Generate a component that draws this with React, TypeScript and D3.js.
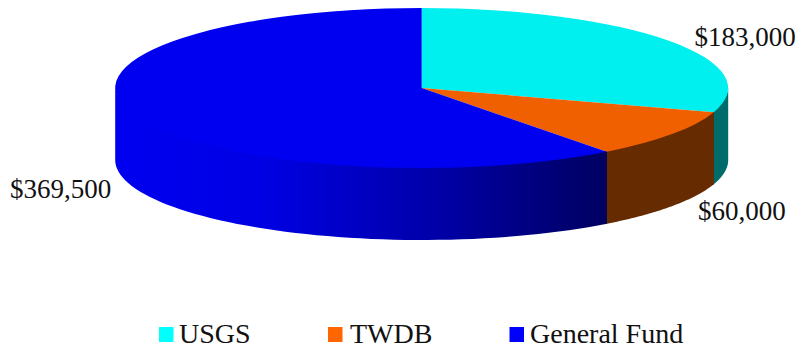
import React from "react";
import * as d3 from "d3";

const categories = ["USGS", "TWDB", "General Fund"];
const amounts = [183000, 60000, 369500];
const amountLabels = ["$183,000", "$60,000", "$369,500"];
const topColors = ["#00f0f0", "#f06000", "#0000f0"];
const legendColors = ["#00ffff", "#ff6600", "#0000ff"];
const wallColors = ["#006b6b", "#662b00", "url(#fundWall)"];

const WIDTH = 796;
const HEIGHT = 347;
const CX = 421.7;
const CY = 88;
const RX = 306.5;
const RY = 80;
const DEPTH = 72;
const WALL_OVERLAP = 1.5;
const WALL_ANGLE_OVERLAP = 0.01;

const labelSpots = [
  { x: 694.5, y: 46 },
  { x: 698, y: 220 },
  { x: 10, y: 198 },
];
const legendSpots = [
  { box: 159, text: 179 },
  { box: 328, text: 350 },
  { box: 509.5, text: 530 },
];

const slices = d3.pie<number>().sort(null)(amounts);
const unitArc = d3.arc<d3.PieArcDatum<number>>().innerRadius(0).outerRadius(1);

// Scales that project the unit circle onto the tilted disc.
const xScale = d3.scaleLinear().domain([-1, 1]).range([CX - RX, CX + RX]);
const yScale = d3.scaleLinear().domain([-1, 1]).range([CY - RY, CY + RY]);

// The part of a slice's rim that faces the viewer, as a closed wall outline.
// Each wall tucks slightly under the disc and under the next wall, so no pale
// seams show along the rim or between neighbouring slices.
function wallPath(start: number, end: number): string | null {
  const a0 = Math.max(start, Math.PI / 2);
  const a1 = Math.min(end + WALL_ANGLE_OVERLAP, (3 * Math.PI) / 2);
  if (a1 <= a0) return null;
  const angles = d3.range(0, 61).map((i) => a0 + ((a1 - a0) * i) / 60);
  const rim = angles.map((a): [number, number] => [xScale(Math.sin(a)), yScale(-Math.cos(a))]);
  const upper = rim.map(([x, y]): [number, number] => [x, y - WALL_OVERLAP]);
  const lower = rim.slice().reverse().map(([x, y]): [number, number] => [x, y + DEPTH]);
  return d3.line()([...upper, ...lower]) + "Z";
}

export default function App() {
  return (
    <svg
      width={WIDTH}
      height={HEIGHT}
      viewBox={`0 0 ${WIDTH} ${HEIGHT}`}
      style={{ position: "absolute", left: 0, top: 0, background: "#fff" }}
      fontFamily="'Liberation Serif', serif"
      fill="#111"
    >
      <defs>
        <linearGradient id="fundWall" gradientUnits="userSpaceOnUse" x1={115} x2={608} y1={0} y2={0}>
          <stop offset="0" stopColor="#0000f0" />
          <stop offset="0.3" stopColor="#0000e4" />
          <stop offset="0.65" stopColor="#0000a8" />
          <stop offset="1" stopColor="#000060" />
        </linearGradient>
      </defs>

      {slices.map((s, i) => {
        const d = wallPath(s.startAngle, s.endAngle);
        return d ? <path key={categories[i]} d={d} fill={wallColors[i]} /> : null;
      })}

      <g transform={`translate(${CX},${CY}) scale(${RX},${RY})`}>
        {slices.map((s, i) => (
          <path key={categories[i]} d={unitArc(s) ?? ""} fill={topColors[i]} />
        ))}
      </g>

      {amountLabels.map((label, i) => (
        <text key={label} x={labelSpots[i].x} y={labelSpots[i].y} fontSize={27}>
          {label}
        </text>
      ))}

      {categories.map((name, i) => (
        <g key={name}>
          <rect x={legendSpots[i].box} y={327} width={14.5} height={15} fill={legendColors[i]} />
          <text x={legendSpots[i].text} y={342.5} fontSize={28}>
            {name}
          </text>
        </g>
      ))}
    </svg>
  );
}
